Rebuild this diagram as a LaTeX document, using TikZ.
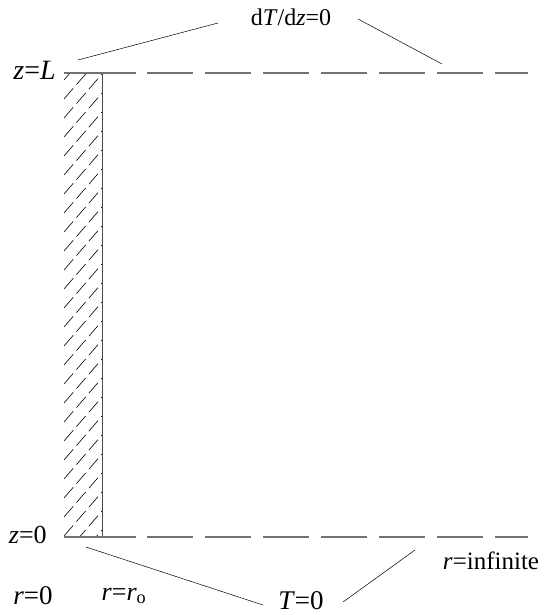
\documentclass[tikz,border=0pt]{standalone}
\usepackage{fontspec}
\setmainfont{Liberation Serif}
\usetikzlibrary{calc}
\tikzset{
  sketch/.style={x=1pt, y=-1pt, line width=0.6pt},
  bound/.style={draw=black!55, line width=1.1pt},
  bdash/.style={bound, dash pattern=on 46pt off 12pt},
  leader/.style={draw, line width=0.5pt},
  hatchline/.style={line width=0.6pt, dash pattern=on 14pt off 5pt},
  blabel/.style={inner sep=0pt},
}
\newcommand{\fsz}[1]{\fontsize{#1}{#1}\selectfont}

\begin{document}
\begin{tikzpicture}[sketch]
  \useasboundingbox (0,0) rectangle (543,615);
  % the well: hatched strip from r=0 to r=ro
  \coordinate (wtl) at (64,73);
  \coordinate (wbr) at (102,537);
  \begin{scope}
    \clip (wtl) rectangle (wbr);
    \foreach \y in {80,99,...,610}
      \draw[hatchline] (64,\y) -- ++(38,-44);
  \end{scope}
  \draw[black!70] (wtl -| wbr) -- (wbr);
  % boundaries z=L and z=0
  \draw[bound] (64,73) -- (136,73);
  \draw[bdash] (147,73) -- (528,73);
  \draw[bound] (64,537) -- (136,537);
  \draw[bdash] (147,537) -- (528,537);
  % labels
  \node[blabel, anchor=east, font=\fsz{28}] (zL) at (56,70) {\textit{z}=\textit{L}};
  \node[blabel, anchor=east, font=\fsz{26}] (z0) at (47,535) {\textit{z}=0};
  \node[blabel, font=\fsz{24}] (flux) at (291,17) {d\textit{T}/d\textit{z}=0};
  \node[blabel, font=\fsz{27}] (temp) at (301,601) {\textit{T}=0};
  \node[blabel, font=\fsz{25}] (rinf) at (491,561) {\textit{r}=infinite};
  \node[blabel, font=\fsz{27}] (r0) at (33,596) {\textit{r}=0};
  \node[blabel, font=\fsz{26}] (rw) at (124,596) {\textit{r}=\textit{r}\textsubscript{o}};
  % leader lines
  \coordinate (ft1) at (78,60);
  \coordinate (ft2) at (218,23);
  \coordinate (ft3) at (358,19);
  \coordinate (ft4) at (442,64);
  \draw[leader] (ft1) -- (ft2) (ft3) -- (ft4);
  \coordinate (tb1) at (86,547);
  \coordinate (tb2) at (263,605);
  \coordinate (tb3) at (343,602);
  \coordinate (tb4) at (415,550);
  \draw[leader] (tb1) -- (tb2) (tb3) -- (tb4);
\end{tikzpicture}
\end{document}
